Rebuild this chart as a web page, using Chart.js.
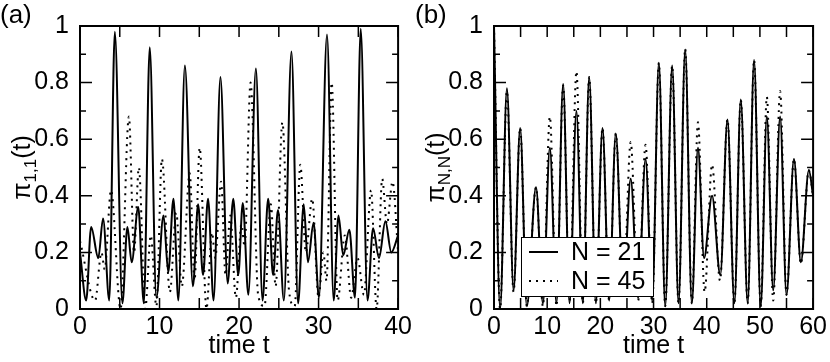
<!DOCTYPE html>
<html>
<head>
<meta charset="utf-8">
<script src="https://cdn.jsdelivr.net/npm/chart.js@4.4.0/dist/chart.umd.min.js"></script>
<style>
  html, body { margin: 0; padding: 0; background: #fff; }
  #wrap { position: relative; width: 830px; height: 362px; }
  .panel { position: absolute; top: 0; width: 415px; height: 362px; }
</style>
</head>
<body>
<div id="wrap">
  <div class="panel" style="left:0"><canvas id="chartA" width="415" height="362"></canvas></div>
  <div class="panel" style="left:415px"><canvas id="chartB" width="415" height="362"></canvas></div>
</div>
<script>
// panel (a): pi_{1,1}(t) (turning points)
const timeA21 = [0, 0.78, 1.4, 2.3, 2.9, 3.68, 4.38, 5.33, 5.96, 6.5, 7.32, 8.03, 8.77, 9.6, 10.5, 11.1, 11.75, 12.37, 13.19, 14.2, 14.85, 15.47, 16.1, 16.8, 17.66, 18.57, 19.27, 19.9, 20.47, 21.17, 22.12, 22.95, 23.66, 24.28, 24.9, 25.64, 26.59, 27.42, 28.13, 28.66, 29.37, 30.05, 31.06, 31.9, 32.5, 33.1, 33.87, 34.58, 35.3, 36.15, 36.85, 37.6, 38.4, 39.15, 40];
const probA21 = [0.2, 0.03, 0.29, 0.18, 0.32, 0.03, 0.98, 0.02, 0.29, 0.165, 0.36, 0.02, 0.925, 0.04, 0.33, 0.13, 0.39, 0.03, 0.86, 0.08, 0.37, 0.12, 0.39, 0.03, 0.82, 0.09, 0.39, 0.12, 0.375, 0.05, 0.85, 0.03, 0.39, 0.12, 0.35, 0.03, 0.91, 0.02, 0.37, 0.165, 0.305, 0.04, 0.97, 0.03, 0.33, 0.19, 0.28, 0.04, 0.99, 0.03, 0.285, 0.18, 0.31, 0.2, 0.26];

const timeA45 = [0, 1.9, 2.7, 3.1, 3.9, 5.1, 6.15, 6.8, 7.4, 8.2, 8.9, 9.6, 10.3, 11.3, 12.1, 12.8, 13.8, 14.4, 15.05, 15.9, 16.6, 17.0, 17.74, 18.3, 18.9, 19.6, 20.3, 20.7, 21.45, 22.4, 23.2, 24.0, 24.6, 25.45, 26.3, 27.0, 27.7, 28.4, 29.2, 30.0, 30.6, 31.0, 31.65, 32.4, 33.3, 34.1, 34.9, 35.7, 36.6, 37.3, 38.0, 38.6, 39.3, 40];
const probA45 = [0.24, 0.03, 0.2, 0.14, 0.42, 0.0, 0.68, 0.2, 0.5, 0.0, 0.26, 0.01, 0.53, 0.06, 0.34, 0.08, 0.48, 0.1, 0.57, 0.0, 0.27, 0.18, 0.45, 0.12, 0.33, 0.04, 0.3, 0.22, 0.8, 0.05, 0.01, 0.37, 0.08, 0.66, 0.06, 0.01, 0.51, 0.2, 0.39, 0.04, 0.2, 0.1, 0.8, 0.03, 0.26, 0.04, 0.18, 0.05, 0.42, 0.0, 0.46, 0.3, 0.45, 0.2];

// panel (b): pi_{N,N}(t)
const timeB21 = [0, 1.15, 2.43, 3.68, 4.92, 6.17, 7.9, 9.2, 10.5, 11.75, 13.0, 14.2, 15.5, 16.7, 17.9, 19.15, 20.4, 21.65, 22.9, 24.3, 25.7, 27.1, 28.5, 29.75, 31.0, 32.2, 33.5, 34.7, 35.95, 37.2, 38.35, 39.5, 41.0, 42.55, 43.9, 45.2, 46.4, 47.7, 48.9, 50.15, 51.3, 52.5, 53.8, 55.0, 56.4, 57.7, 59.2, 60];
const probB21 = [1.0, 0.0, 0.78, 0.066, 0.64, 0.01, 0.43, 0.02, 0.57, 0.02, 0.795, 0.02, 0.70, 0.02, 0.82, 0.02, 0.64, 0.03, 0.62, 0.05, 0.46, 0.04, 0.53, 0.03, 0.87, 0.01, 0.86, 0.02, 0.917, 0.02, 0.57, 0.18, 0.40, 0.12, 0.67, 0.02, 0.74, 0.02, 0.88, 0.01, 0.68, 0.066, 0.68, 0.05, 0.53, 0.165, 0.49, 0.4];

const timeB45 = [0, 1.15, 2.43, 3.68, 4.92, 6.17, 7.9, 9.2, 10.5, 11.75, 13.0, 14.2, 15.5, 16.7, 17.9, 19.15, 20.4, 21.65, 22.9, 24.3, 25.7, 27.1, 28.5, 29.75, 31.0, 32.2, 33.5, 34.7, 35.95, 37.2, 38.35, 39.6, 41.0, 42.5, 43.9, 45.2, 46.4, 47.7, 48.9, 50.15, 51.3, 52.5, 53.8, 55.0, 56.4, 57.7, 59.2, 60];
const probB45 = [1.0, 0.0, 0.77, 0.06, 0.64, 0.01, 0.43, 0.01, 0.68, 0.01, 0.79, 0.03, 0.84, 0.02, 0.82, 0.02, 0.64, 0.03, 0.62, 0.05, 0.59, 0.03, 0.58, 0.02, 0.87, 0.01, 0.86, 0.02, 0.92, 0.02, 0.66, 0.06, 0.51, 0.1, 0.67, 0.02, 0.74, 0.02, 0.88, 0.01, 0.75, 0.03, 0.77, 0.05, 0.53, 0.16, 0.49, 0.4];

const yTickLabels = ['0', '0.2', '0.4', '0.6', '0.8', '1'];
const legendLabels = ['N = 21', 'N = 45'];

const FONT = "'Liberation Sans', Arial, sans-serif";
const DOTS = [2, 5];

function toPoints(ts, vs) {
    return ts.map((t, i) => ({x: t, y: vs[i]}));
}

// frame, inward ticks, panel letter, axis titles and the legend box
const paperPlugin = {
    id: 'paper',
    afterDraw(chart, args, opts) {
        const {ctx, chartArea: a} = chart;
        const x = chart.scales.x, y = chart.scales.y;
        ctx.save();
        ctx.strokeStyle = '#000';
        ctx.fillStyle = '#000';

        ctx.lineWidth = 1.5;
        ctx.beginPath();
        for (let v = x.min; v <= x.max + 1e-9; v += 5) {
            const px = x.getPixelForValue(v);
            ctx.moveTo(px, a.bottom); ctx.lineTo(px, a.bottom - 11);
            ctx.moveTo(px, a.top); ctx.lineTo(px, a.top + 11);
        }
        for (let i = 0; i <= 10; i++) {
            const py = y.getPixelForValue(i / 10);
            const len = i % 2 === 0 ? 12 : 6;
            ctx.moveTo(a.left, py); ctx.lineTo(a.left + len, py);
            ctx.moveTo(a.right, py); ctx.lineTo(a.right - len, py);
        }
        ctx.stroke();
        ctx.lineWidth = 2;
        ctx.strokeRect(a.left, a.top, a.right - a.left, a.bottom - a.top);

        // panel letter
        ctx.font = '26px ' + FONT;
        ctx.textAlign = 'left';
        ctx.textBaseline = 'top';
        ctx.fillText(opts.panel, 0, 3);

        // x title
        ctx.font = '25px ' + FONT;
        ctx.textAlign = 'center';
        ctx.textBaseline = 'middle';
        ctx.fillText('time t', (a.left + a.right) / 2, 346);

        // y title with subscript, rotated
        ctx.save();
        ctx.translate(opts.titleX, (a.top + a.bottom) / 2);
        ctx.rotate(-Math.PI / 2);
        ctx.textAlign = 'left';
        ctx.textBaseline = 'alphabetic';
        const big = '25px ' + FONT, small = '17px ' + FONT;
        ctx.font = big; const w1 = ctx.measureText('\u03c0').width;
        ctx.font = small; const w2 = ctx.measureText(opts.sub).width;
        ctx.font = big; const w3 = ctx.measureText('(t)').width;
        let cx = -(w1 + w2 + w3) / 2;
        ctx.font = big; ctx.fillText('\u03c0', cx, 0); cx += w1;
        ctx.font = small; ctx.fillText(opts.sub, cx, 6); cx += w2;
        ctx.font = big; ctx.fillText('(t)', cx, 0);
        ctx.restore();

        if (opts.legend) {
            const L = opts.legend;
            ctx.fillStyle = '#fff';
            ctx.fillRect(L.x, L.y, L.w, L.h);
            ctx.lineWidth = 1;
            ctx.strokeStyle = '#000';
            ctx.strokeRect(L.x + 0.5, L.y + 0.5, L.w, L.h);
            ctx.fillStyle = '#000';
            ctx.font = '25px ' + FONT;
            ctx.textAlign = 'left';
            ctx.textBaseline = 'middle';
            const rows = [L.y + 15, L.y + 44];
            ctx.lineWidth = 2;
            ctx.beginPath();
            ctx.moveTo(L.x + 8, rows[0]); ctx.lineTo(L.x + 37, rows[0]);
            ctx.stroke();
            ctx.setLineDash(DOTS);
            ctx.beginPath();
            ctx.moveTo(L.x + 8, rows[1]); ctx.lineTo(L.x + 37, rows[1]);
            ctx.stroke();
            ctx.setLineDash([]);
            ctx.fillText(legendLabels[0], L.x + 50, rows[0] + 1);
            ctx.fillText(legendLabels[1], L.x + 50, rows[1] + 1);
        }
        ctx.restore();
    }
};

function makePanel(id, cfg) {
    return new Chart(document.getElementById(id), {
        type: 'line',
        data: {
            datasets: [
                {
                    label: legendLabels[0],
                    data: toPoints(cfg.t21, cfg.p21),
                    borderColor: '#000',
                    borderWidth: 2,
                    pointRadius: 0,
                    cubicInterpolationMode: 'monotone'
                },
                {
                    label: legendLabels[1],
                    data: toPoints(cfg.t45, cfg.p45),
                    borderColor: '#000',
                    borderWidth: 2,
                    borderDash: DOTS,
                    pointRadius: 0,
                    cubicInterpolationMode: 'monotone'
                }
            ]
        },
        options: {
            responsive: false,
            animation: false,
            events: [],
            layout: { padding: { left: 0, top: 23, right: cfg.right, bottom: 0 } },
            plugins: {
                legend: { display: false },
                tooltip: { enabled: false },
                paper: { panel: cfg.panel, sub: cfg.sub, titleX: cfg.titleX, legend: cfg.legend }
            },
            scales: {
                x: {
                    type: 'linear',
                    min: 0,
                    max: cfg.xMax,
                    afterFit(s) { s.height = 53; },
                    grid: { display: false, drawTicks: false },
                    border: { display: false },
                    ticks: {
                        stepSize: 10, autoSkip: false, maxRotation: 0, padding: 3,
                        color: '#000', font: { family: FONT, size: 25 }
                    }
                },
                y: {
                    min: 0,
                    max: 1,
                    afterFit(s) { s.width = cfg.yWidth; },
                    grid: { display: false, drawTicks: false },
                    border: { display: false },
                    ticks: {
                        stepSize: 0.2, padding: 11, color: '#000',
                        font: { family: FONT, size: 25 },
                        callback: (v, i) => yTickLabels[i]
                    }
                }
            }
        },
        plugins: [paperPlugin]
    });
}

makePanel('chartA', {
    t21: timeA21, p21: probA21, t45: timeA45, p45: probA45,
    xMax: 40, right: 13, yWidth: 80, panel: '(a)', sub: '1,1', titleX: 30
});

makePanel('chartB', {
    t21: timeB21, p21: probB21, t45: timeB45, p45: probB45,
    xMax: 60, right: 15, yWidth: 79, panel: '(b)', sub: 'N,N', titleX: 29,
    legend: { x: 106, y: 237, w: 132, h: 59 }
});
</script>
</body>
</html>
